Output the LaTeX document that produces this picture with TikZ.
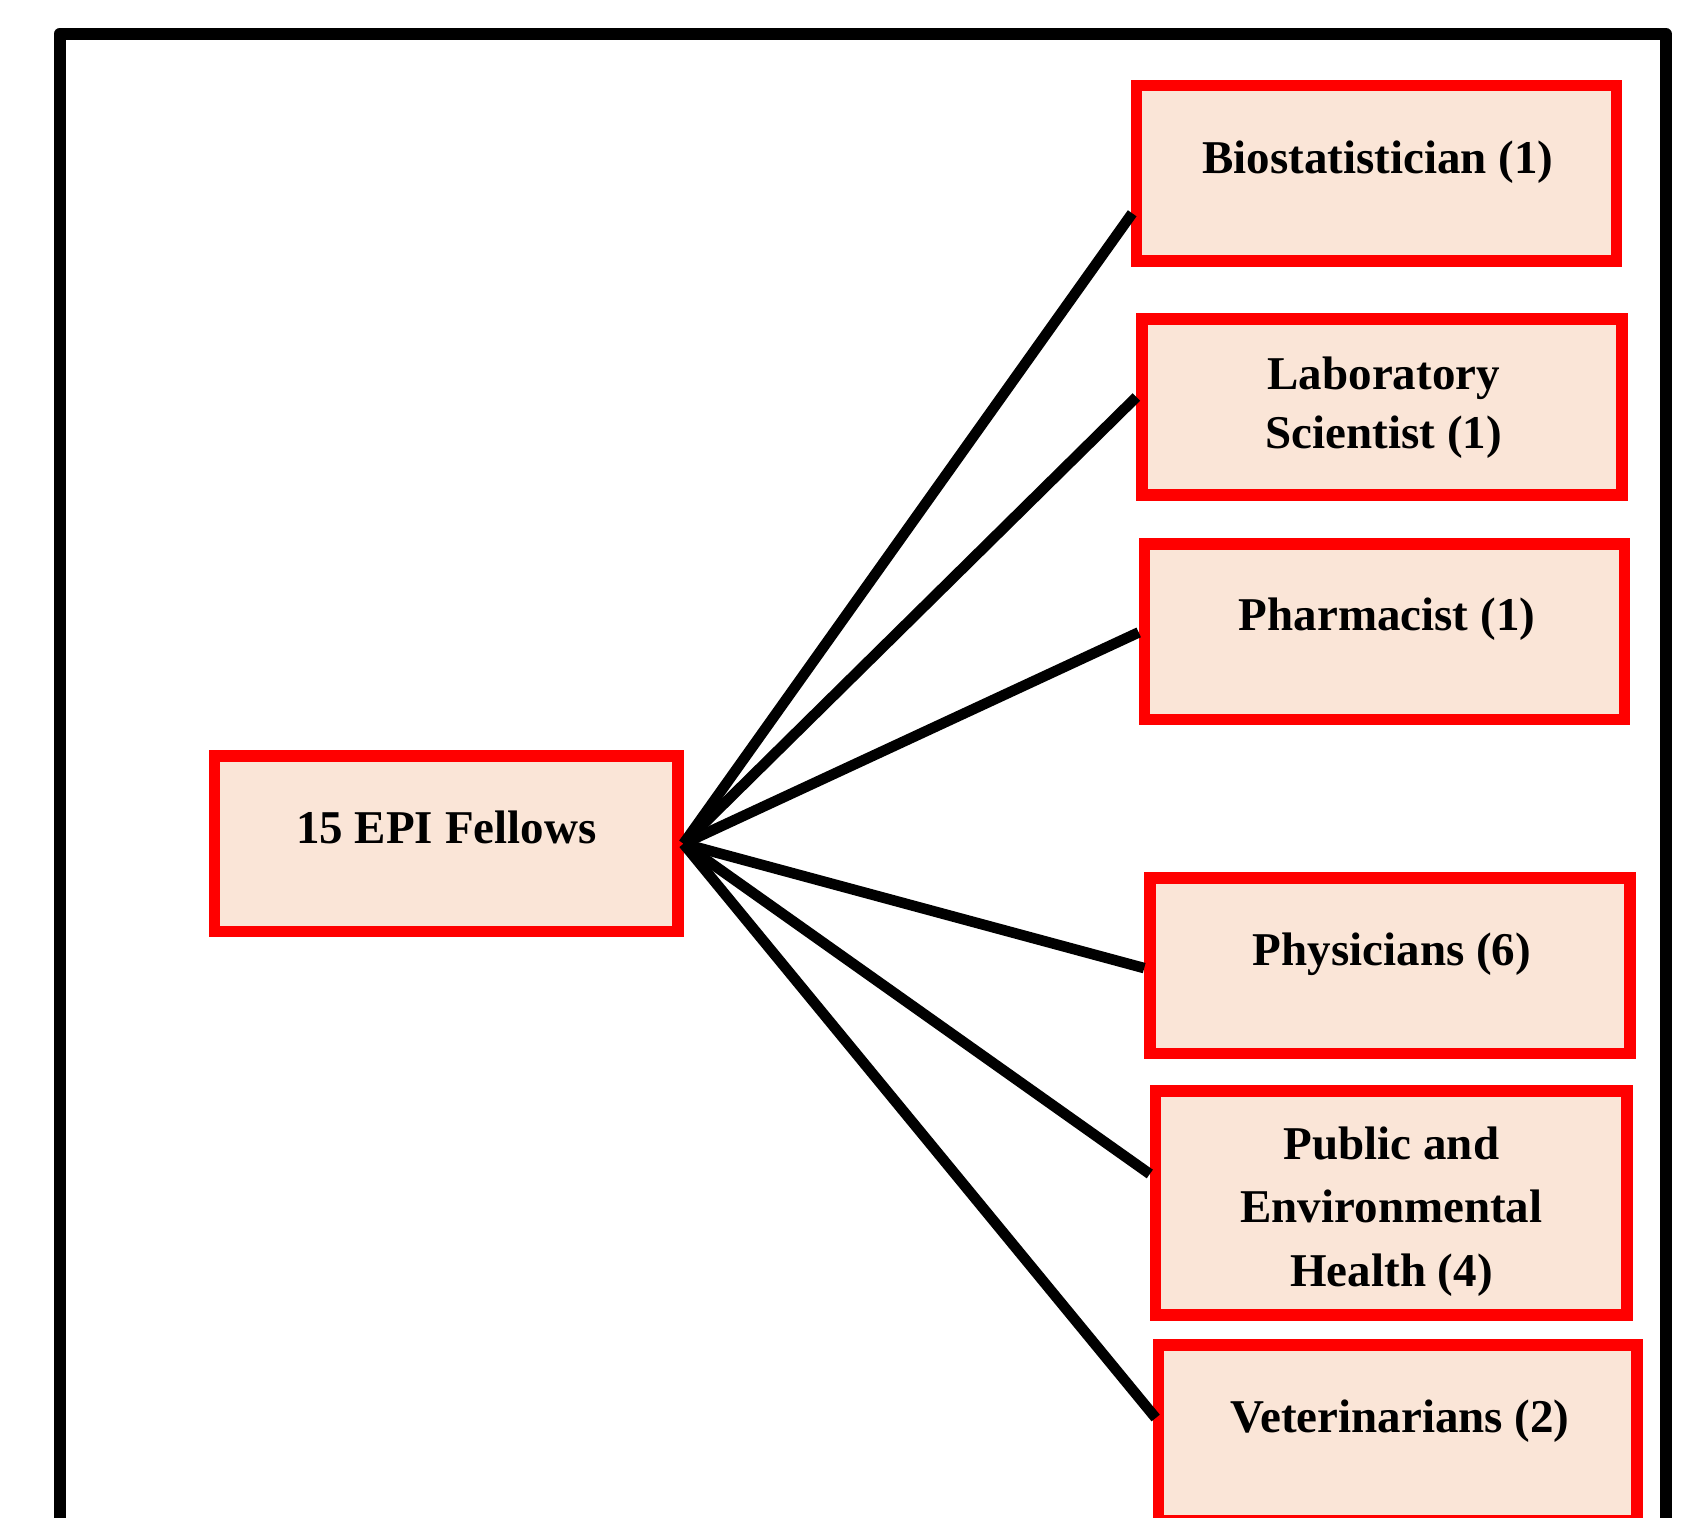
\documentclass[tikz,border=0pt]{standalone}
\usepackage{fontspec}
\setmainfont{Liberation Serif}
\definecolor{boxfill}{RGB}{250,229,215}
\definecolor{boxred}{RGB}{255,0,0}
\begin{document}
\begin{tikzpicture}[x=0.5pt,y=-0.5pt,
  catbox/.style={draw=boxred, fill=boxfill, line width=5.8pt, rectangle, inner sep=0pt, minimum height=87.8pt},
  lbl/.style={anchor=base, inner sep=0pt, font=\fontsize{23.5}{29}\selectfont\bfseries},
  conn/.style={draw=black, line width=5.3pt},
  framestyle/.style={draw=black, line width=6pt, line join=round}
]
\useasboundingbox (0,0) rectangle (1694,1518);
\fill[white] (0,0) rectangle (1694,1518);
% outer frame (bottom edge is below the picture)
\draw[framestyle] (59.5,1560) -- (59.5,34) -- (1666,34) -- (1666,1560);

% boxes
\node[catbox, minimum width=231.6pt] (epi)   at (446.1,843.7) {};
\node[catbox, minimum width=239.9pt] (bio)   at (1376.4,173.3) {};
\node[catbox, minimum width=240pt]   (lab)   at (1381.7,407) {};
\node[catbox, minimum width=240pt]   (pharm) at (1384.5,631.9) {};
\node[catbox, minimum width=240pt]   (phys)  at (1390,965.6) {};
\node[catbox, minimum width=235.7pt, minimum height=112.2pt] (pub) at (1391.3,1203) {};
\node[catbox, minimum width=239.2pt] (vet)   at (1397.7,1433) {};

% texts
\node[lbl] (epit)   at (446.3,843.3)  {15 EPI Fellows};
\node[lbl] (biot)   at (1378,173.3)   {Biostatistician (1)};
\node[lbl] (labt1)  at (1383.8,389.3) {Laboratory};
\node[lbl] (labt2)  at (1383.8,449)   {Scientist (1)};
\node[lbl] (pharmt) at (1387,631)     {Pharmacist (1)};
\node[lbl] (physt)  at (1392,965)     {Physicians (6)};
\node[lbl] (pubt1)  at (1391.5,1159)  {Public and};
\node[lbl] (pubt2)  at (1391.5,1222)  {Environmental};
\node[lbl] (pubt3)  at (1391.5,1286)  {Health (4)};
\node[lbl] (vett)   at (1400,1432)    {Veterinarians (2)};

% connectors
\draw[conn] (epi.east) -- ([shift={(1.5,40)}]bio.west);
\draw[conn] (epi.east) -- ([shift={(0.5,-10)}]lab.west);
\draw[conn] (epi.east) -- ([shift={(0,0.5)}]pharm.west);
\draw[conn] (epi.east) -- ([shift={(0,2.5)}]phys.west);
\draw[conn] (epi.east) -- ([shift={(0,-29)}]pub.west);
\draw[conn] (epi.east) -- ([shift={(3,-15)}]vet.west);
\end{tikzpicture}
\end{document}
